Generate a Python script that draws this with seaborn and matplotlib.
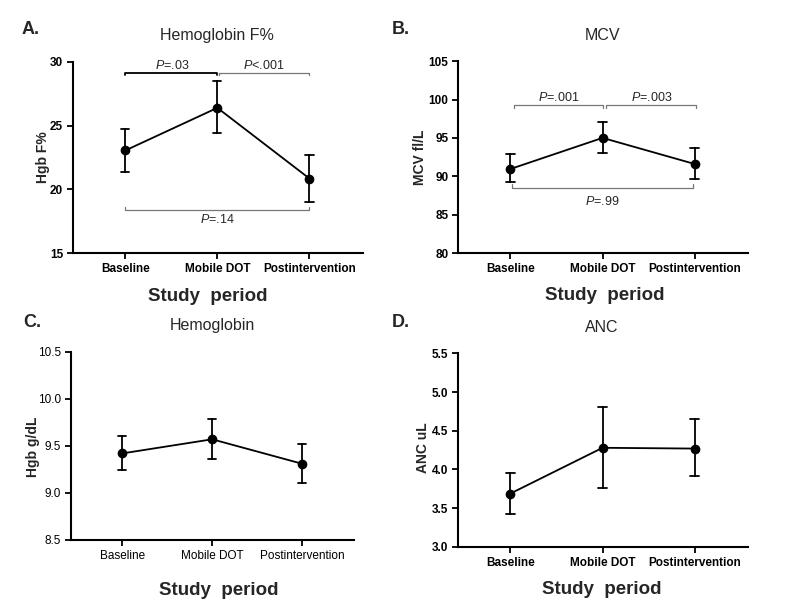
import numpy as np
import pandas as pd
import matplotlib
matplotlib.use("Agg")
import matplotlib.pyplot as plt
import seaborn as sns

sns.set_style("ticks")
plt.rcParams['font.family'] = ['Liberation Sans', 'DejaVu Sans']
plt.rcParams['mathtext.fontset'] = 'custom'
plt.rcParams['mathtext.it'] = 'Liberation Sans:italic'
plt.rcParams['mathtext.rm'] = 'Liberation Sans'

periods = ['Baseline', 'Mobile DOT', 'Postintervention']

# mean and lower / upper ends of the error bars
hbf_mean = [23.05, 26.4, 20.85]
hbf_low = [21.4, 24.4, 19.0]
hbf_high = [24.75, 28.5, 22.7]

mcv_mean = [90.95, 95.0, 91.6]
mcv_low = [89.2, 93.05, 89.6]
mcv_high = [92.85, 97.1, 93.7]

hgb_mean = [9.42, 9.57, 9.31]
hgb_low = [9.24, 9.36, 9.11]
hgb_high = [9.61, 9.79, 9.52]

anc_mean = [3.69, 4.28, 4.27]
anc_low = [3.43, 3.76, 3.91]
anc_high = [3.96, 4.81, 4.65]


def long_table(mean, low, high):
    # three rows per period: median = mean, full range = error bar
    rows = []
    for p, m, lo, hi in zip(periods, mean, low, high):
        for v in (lo, m, hi):
            rows.append({'period': p, 'value': v})
    return pd.DataFrame(rows)


def draw(ax, mean, low, high, title, ylabel, ylim, yticks, fmt, bold_ticks,
         title_xy, ylab_xy, xlab_xy):
    df = long_table(mean, low, high)
    sns.pointplot(data=df, x='period', y='value', order=periods, ax=ax,
                  estimator='median', errorbar=('pi', 100), color='black',
                  markers='o', markersize=6, linewidth=1.3, capsize=0.09,
                  err_kws={'linewidth': 1.3})
    ax.set_xlim(-0.57, 2.58)
    ax.set_ylim(*ylim)
    ax.set_yticks(yticks)
    ax.set_yticklabels([fmt.format(t) for t in yticks])
    sns.despine(ax=ax)
    for s in ['left', 'bottom']:
        ax.spines[s].set_linewidth(1.5)
        ax.spines[s].set_color('black')
    ax.tick_params(direction='out', length=4, width=1.3, colors='black',
                   labelsize=8.5, pad=3)
    w = 'bold' if bold_ticks else 'normal'
    for lab in ax.get_xticklabels() + ax.get_yticklabels():
        lab.set_fontweight(w)
    ax.text(title_xy[0], title_xy[1], title, transform=ax.transAxes,
            ha='center', va='center', fontsize=11.5)
    ax.set_ylabel(ylabel, fontsize=10, fontweight='bold')
    ax.yaxis.set_label_coords(*ylab_xy)
    ax.yaxis.label.set_va('center')
    ax.set_xlabel('Study  period', fontsize=13.5, fontweight='bold')
    ax.xaxis.set_label_coords(*xlab_xy)
    ax.xaxis.label.set_va('center')


def bracket(ax, x0, x1, y, tip, color, lw):
    ax.plot([x0, x0, x1, x1], [y + tip, y, y, y + tip], color=color, lw=lw,
            clip_on=False)


fig = plt.figure(figsize=(8, 6.15), dpi=100)
axA = fig.add_axes([0.091, 0.5886, 0.3625, 0.3106])
axB = fig.add_axes([0.5725, 0.5886, 0.3625, 0.312])
axC = fig.add_axes([0.0888, 0.122, 0.354, 0.306])
axD = fig.add_axes([0.5725, 0.1106, 0.3625, 0.315])

draw(axA, hbf_mean, hbf_low, hbf_high, 'Hemoglobin F%', 'Hgb F%', (15, 30),
     [15, 20, 25, 30], '{:.0f}', True, (0.497, 1.141), (-0.103, 0.5),
     (0.466, -0.23))
draw(axB, mcv_mean, mcv_low, mcv_high, 'MCV', 'MCV fl/L', (80, 105),
     [80, 85, 90, 95, 100, 105], '{:.0f}', True, (0.5, 1.135), (-0.131, 0.5),
     (0.507, -0.219))
draw(axC, hgb_mean, hgb_low, hgb_high, 'Hemoglobin', 'Hgb g/dL', (8.5, 10.5),
     [8.5, 9.0, 9.5, 10.0, 10.5], '{:.1f}', False, (0.5, 1.142),
     (-0.134, 0.495), (0.52, -0.266))
draw(axD, anc_mean, anc_low, anc_high, 'ANC', 'ANC uL', (3.0, 5.5),
     [3.0, 3.5, 4.0, 4.5, 5.0, 5.5], '{:.1f}', True, (0.497, 1.134),
     (-0.12, 0.51), (0.497, -0.222))

# significance brackets
bracket(axA, 0.0, 1.0, 29.14, -0.2, 'black', 1.3)
bracket(axA, 1.02, 2.0, 29.14, -0.2, '#777777', 0.9)
bracket(axA, 0.0, 2.0, 18.39, 0.25, '#777777', 0.9)
axA.text(0.51, 29.75, r'$P$=.03', ha='center', va='center', fontsize=9)
axA.text(1.5, 29.75, r'$P$<.001', ha='center', va='center', fontsize=9)
axA.text(1.0, 17.6, r'$P$=.14', ha='center', va='center', fontsize=9)

bracket(axB, 0.04, 1.0, 99.33, -0.5, '#777777', 0.9)
bracket(axB, 1.04, 2.02, 99.33, -0.5, '#777777', 0.9)
bracket(axB, 0.02, 1.98, 88.43, 0.5, '#777777', 0.9)
axB.text(0.52, 100.3, r'$P$=.001', ha='center', va='center', fontsize=9)
axB.text(1.53, 100.3, r'$P$=.003', ha='center', va='center', fontsize=9)
axB.text(1.0, 86.7, r'$P$=.99', ha='center', va='center', fontsize=9)

for letter, x, y in [('A.', 22, 30), ('B.', 392, 30), ('C.', 23, 323),
                     ('D.', 392, 323)]:
    fig.text(x / 800, 1 - y / 615, letter, fontsize=13, fontweight='bold',
             ha='left', va='center')

fig.savefig('out.png', dpi=100)
